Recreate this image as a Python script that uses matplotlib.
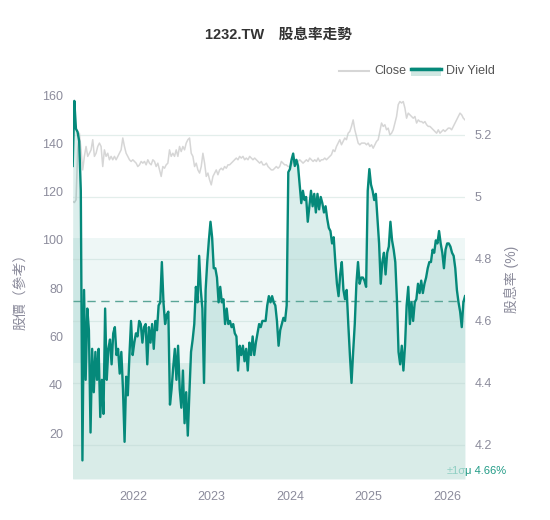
import numpy as np
import pandas as pd
import matplotlib
matplotlib.use("Agg")
import matplotlib.pyplot as plt
from matplotlib.patches import Rectangle
from matplotlib.lines import Line2D
from matplotlib.ticker import FuncFormatter

plt.rcParams['font.family'] = ['Liberation Sans', 'Noto Sans CJK TC', 'DejaVu Sans']

title = "1232.TW\u3000股息率走勢"
start_date = "2021-03-26"
end_date = "2026-03-25"

# dividend yield (%), roughly weekly
div_yield = [
    5.10, 5.31, 5.22, 5.21, 5.18, 5.02, 4.15, 4.70, 4.41, 4.64, 4.57, 4.24, 4.51, 4.37, 4.50,
    4.41, 4.51, 4.29, 4.41, 4.30, 4.64, 4.41, 4.51, 4.54, 4.46, 4.56, 4.58, 4.49, 4.51, 4.43,
    4.50, 4.38, 4.21, 4.42, 4.36, 4.49, 4.60, 4.49, 4.53, 4.56, 4.55, 4.60, 4.59, 4.53, 4.58,
    4.59, 4.46, 4.58, 4.53, 4.59, 4.51, 4.60, 4.57, 4.65, 4.66, 4.79, 4.66, 4.59, 4.62, 4.63,
    4.33, 4.38, 4.45, 4.51, 4.41, 4.52, 4.38, 4.32, 4.44, 4.27, 4.37, 4.23, 4.37, 4.50, 4.54,
    4.59, 4.71, 4.66, 4.81, 4.70, 4.64, 4.40, 4.70, 4.79, 4.86, 4.92, 4.87, 4.77, 4.77, 4.74,
    4.66, 4.71, 4.66, 4.67, 4.59, 4.64, 4.59, 4.60, 4.58, 4.59, 4.56, 4.55, 4.44, 4.52, 4.49,
    4.52, 4.47, 4.51, 4.44, 4.53, 4.49, 4.55, 4.49, 4.53, 4.56, 4.59, 4.58, 4.60, 4.60,
    4.60, 4.65, 4.68, 4.66, 4.68, 4.66, 4.65, 4.60, 4.52, 4.57, 4.59, 4.61, 4.60, 4.65, 5.08,
    5.09, 5.12, 5.14, 5.10, 5.12, 5.10, 5.04, 4.98, 5.02, 4.99, 5.00, 4.92, 4.97, 5.02, 4.97,
    5.01, 4.95, 5.01, 4.96, 5.00, 4.98, 4.95, 4.97, 4.93, 4.90, 4.89, 4.85, 4.87, 4.79, 4.72,
    4.68, 4.75, 4.79, 4.70, 4.67, 4.70, 4.59, 4.49, 4.40, 4.50, 4.59, 4.72, 4.79, 4.72, 4.74,
    4.74, 4.73, 4.71, 5.02, 5.09, 5.04, 5.02, 4.99, 5.01, 4.93, 4.85, 4.72, 4.79, 4.82, 4.75,
    4.82, 4.84, 4.92, 4.86, 4.83, 4.79, 4.67, 4.50, 4.46, 4.52, 4.44, 4.52, 4.65, 4.71, 4.59,
    4.66, 4.60, 4.66, 4.67, 4.72, 4.69, 4.73, 4.69, 4.72, 4.74, 4.77, 4.79, 4.79, 4.83, 4.82,
    4.86, 4.85, 4.89, 4.85, 4.82, 4.77, 4.83, 4.85, 4.85, 4.84, 4.82, 4.81, 4.77, 4.70, 4.66,
    4.63, 4.58, 4.66, 4.68,
]

# close price, roughly weekly
close = [
    116.0, 115.5, 116.6, 137.3, 144.2, 137.3, 129.0, 134.6, 138.7, 134.6, 135.9, 137.3, 141.5,
    134.6, 135.9, 138.7, 140.1, 138.7, 130.4, 137.3, 134.6, 135.9, 133.2, 134.6, 133.2, 134.6,
    133.2, 134.6, 135.9, 137.3, 142.2, 138.7, 135.9, 134.6, 133.2, 132.5, 133.2, 132.5, 131.8,
    130.4, 131.1, 132.5, 131.8, 132.5, 131.1, 133.2, 131.8, 131.1, 133.2, 132.5, 130.4, 131.8,
    129.0, 126.3, 130.4, 129.7, 131.1,
    131.8, 137.3, 134.6, 135.9, 134.6, 137.3, 134.6, 138.7, 136.6, 138.7, 137.3, 140.1, 141.5,
    142.2, 135.9, 134.6, 130.4, 131.8, 129.0, 127.7, 130.4, 135.9, 131.8, 126.3, 127.7, 124.9,
    122.8, 126.3, 127.7, 129.0, 127.0, 129.0, 129.7, 129.0, 130.4, 129.7, 131.1, 131.1, 131.8,
    132.5, 133.2, 133.9, 133.2, 134.6, 133.9, 134.6, 133.2, 133.9, 133.2, 134.6, 133.9, 133.2,
    133.9, 133.2, 132.5, 131.8, 132.5, 131.1, 131.1, 131.8,
    130.4, 129.7, 129.0, 129.0, 129.7, 130.4, 129.7, 130.4, 132.5, 131.8, 131.1, 131.1, 130.4,
    130.4, 131.1, 132.5, 133.2, 131.8, 132.5, 133.2, 132.5, 131.8, 132.5, 133.2, 132.5, 133.9,
    133.2, 132.5, 133.2, 132.5, 133.9, 132.5, 133.2, 133.2, 133.9, 133.2, 133.9, 134.6, 135.3,
    137.3, 136.6, 138.7, 140.1, 141.5, 139.4, 140.8, 142.2, 141.5, 144.2, 144.9, 147.0, 149.7,
    145.6, 142.8, 140.1, 139.4, 140.1, 140.1, 140.1,
    139.4, 140.1, 138.7, 139.4, 138.0, 139.4, 140.8, 141.5, 144.9, 148.4, 147.0, 147.7, 145.6,
    146.3, 143.5, 144.2, 145.6, 148.4, 151.1, 156.0, 157.3, 156.7, 157.3, 154.6, 150.4, 152.5,
    151.8, 151.1, 150.4, 151.1, 148.4, 149.7, 149.0, 149.0, 148.4, 149.0, 147.7, 147.0, 147.0,
    146.3, 145.6, 144.9, 144.2, 145.6, 144.2, 144.9, 145.6, 144.9, 145.6, 146.3, 146.3, 145.6,
    147.0, 148.4, 149.7, 151.1, 152.5, 151.8, 150.4, 149.7,
]

yield_mean = 4.665
yield_std = 0.201
mean_label = "μ 4.66%"
year_labels = ["2022", "2023", "2024", "2025", "2026"]
price_ticks = [20, 40, 60, 80, 100, 120, 140, 160]
yield_ticks = [4.2, 4.4, 4.6, 4.8, 5.0, 5.2]

TEAL = "#05897a"
TICK = "#8c8c9c"

W, H = 550, 520
fig = plt.figure(figsize=(W / 100, H / 100), dpi=100)


def fx(x):
    return x / W


def fy(y):
    return 1 - y / H


yield_dates = pd.date_range(start_date, end_date, periods=len(div_yield))
close_dates = pd.date_range(start_date, end_date, periods=len(close))

ax_p = fig.add_axes([fx(72.7), fy(479), fx(465) - fx(72.7), fy(95) - fy(479)])
ax = ax_p.twinx()

ylo, yhi = 4.090, 5.329

# close price on left axis (underneath)
ax_p.plot(close_dates, close, color="#d6d6d6", lw=1.1, zorder=2)
ax_p.set_ylim(1.1, 160)
ax_p.set_yticks(price_ticks)

# dividend yield on right axis
ax.fill_between(yield_dates, div_yield, ylo, color=TEAL, alpha=0.14, lw=0, zorder=1)
ax.axhspan(yield_mean - yield_std, yield_mean + yield_std, color=TEAL, alpha=0.067, lw=0, zorder=1.2)
ax.axhspan(ylo, yield_mean - yield_std, color="#d9ece8", lw=0, zorder=1.4)
for t in yield_ticks:
    ax.axhline(t, color="#b9d5cf", alpha=0.4, lw=0.9, zorder=1.6)
ax.axhline(yield_mean, color="#5aa597", lw=1.0, ls=(0, (6, 4)), zorder=1.8)
ax.plot(yield_dates, div_yield, color=TEAL, lw=1.7, zorder=3, solid_joinstyle="round")
ax.set_ylim(ylo, yhi)
ax.set_yticks(yield_ticks)
ax.yaxis.set_major_formatter(FuncFormatter(lambda v, p: f"{v:g}"))

ax_p.set_xlim(yield_dates[0], yield_dates[-1])
ax_p.set_xticks([pd.Timestamp(f"{y}-01-01") for y in year_labels])
ax_p.set_xticklabels(year_labels)

for a in (ax, ax_p):
    for s in a.spines.values():
        s.set_visible(False)
    a.tick_params(length=0, colors=TICK, labelsize=9)
ax_p.tick_params(axis="y", pad=7)
ax.tick_params(axis="y", pad=7)
ax_p.tick_params(axis="x", pad=9)

fig.text(fx(20), fy(288), "股價（參考）", rotation=90, ha="center", va="center",
         color=TICK, fontsize=10)
fig.text(fx(511), fy(279), "股息率 (%)", rotation=90, ha="center", va="center",
         color=TICK, fontsize=10)

fig.text(fx(278), fy(35), title, ha="center", va="center", fontsize=10.5,
         fontweight="bold", color="#333333")

# legend
fig.add_artist(Line2D([fx(339), fx(369)], [fy(71), fy(71)], color="#d6d6d6", lw=1.5))
fig.text(fx(374), fy(71), "Close", ha="left", va="center", fontsize=9, color="#555555")
fig.add_artist(Rectangle((fx(411), fy(76)), fx(441) - fx(411), fy(67) - fy(76),
                         transform=fig.transFigure, facecolor="#d0e7e2", edgecolor="none"))
fig.add_artist(Line2D([fx(411), fx(441)], [fy(68.5), fy(68.5)], color=TEAL, lw=2.5))
fig.text(fx(446), fy(71), "Div Yield", ha="left", va="center", fontsize=9, color="#555555")

# mean / band labels
fig.text(fx(447), fy(471), "±1σ", ha="left", va="center", fontsize=8, color="#8fcfc3")
fig.text(fx(465), fy(471), mean_label, ha="left", va="center", fontsize=8, color="#1f9a85")

fig.savefig("out.png", dpi=100)
